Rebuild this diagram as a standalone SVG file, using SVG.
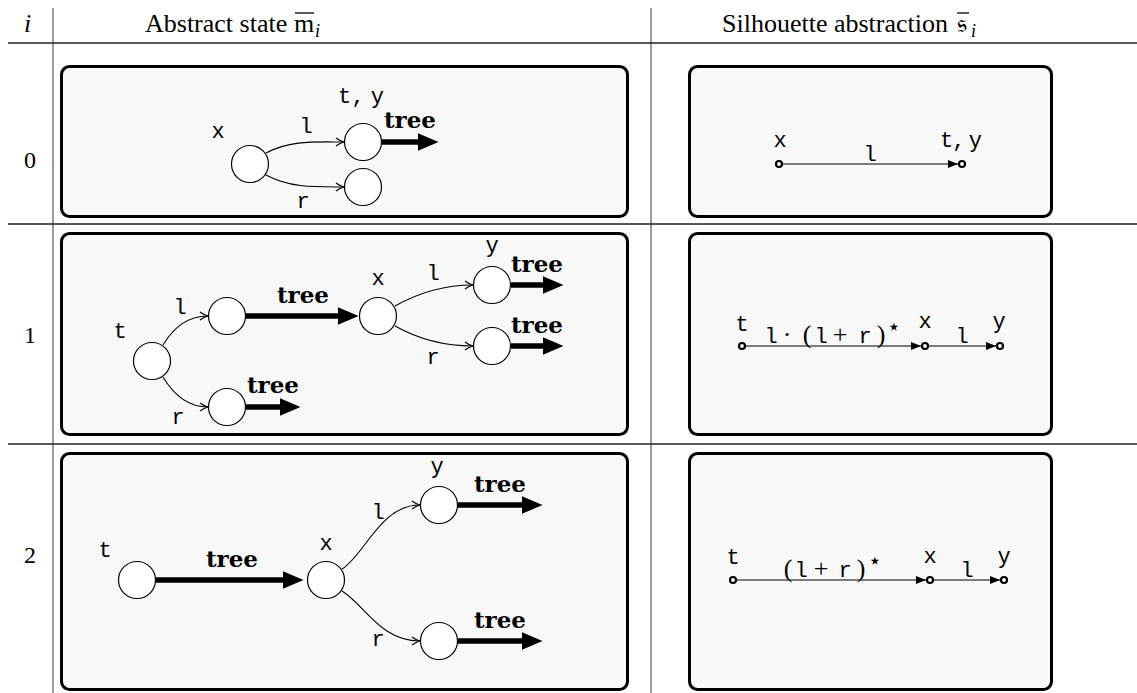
<svg xmlns="http://www.w3.org/2000/svg" width="1137" height="693" viewBox="0 0 1137 693">
<style>
.rule{stroke:#222;stroke-width:1.3}
.vrule{stroke:#666;stroke-width:1.3}
.box{fill:#f8f8f8;stroke:#000;stroke-width:3}
.hd{font-family:"Liberation Serif",serif;font-size:26px;fill:#000}
.sub{font-family:"Liberation Serif",serif;font-size:18px;font-style:italic;fill:#000}
.ovl{stroke:#000;stroke-width:1.3}
.num{font-family:"Liberation Serif",serif;font-size:24px;fill:#000;text-anchor:middle}
.nd{fill:#fff;stroke:#000;stroke-width:1.2}
.sn{fill:#fff;stroke:#000;stroke-width:2.2}
.lb{font-family:"Liberation Mono","DejaVu Sans Mono",monospace;font-size:22px;fill:#000;text-anchor:middle}
.tr{font-family:"DejaVu Serif",serif;font-weight:bold;font-size:23px;fill:#000;text-anchor:middle}
.sr{font-family:"Liberation Serif",serif;font-size:26px}
.st{font-family:"DejaVu Sans",sans-serif;font-size:22px}
.thin{fill:none;stroke:#000;stroke-width:1.1}
.thick{stroke:#000;stroke-width:5.5}
.sline{stroke:#000;stroke-width:1.1}
</style>
<defs>
<marker id="thinhead" markerUnits="userSpaceOnUse" viewBox="0 0 12 10" markerWidth="12" markerHeight="10" refX="9" refY="5" orient="auto"><path d="M1,1 Q5,4 9,5 Q5,6 1,9" fill="none" stroke="#000" stroke-width="1.2"/></marker>
<marker id="bighead" markerUnits="userSpaceOnUse" viewBox="0 0 21 18" markerWidth="21" markerHeight="18" refX="0.5" refY="9" orient="auto"><path d="M0,0 L21,9 L0,18 Z" fill="#000"/></marker>
<marker id="lathead" markerUnits="userSpaceOnUse" viewBox="0 0 10 8" markerWidth="10" markerHeight="8" refX="10" refY="4" orient="auto"><path d="M0,0 L10,4 L0,8 Z" fill="#000"/></marker>
</defs>

<g id="table">
<line class="vrule" x1="53" y1="8" x2="53" y2="693"/>
<line class="vrule" x1="651" y1="8" x2="651" y2="693"/>
<line class="rule" x1="8" y1="43" x2="1137" y2="43"/>
<line class="rule" x1="8" y1="224" x2="1137" y2="224"/>
<line class="rule" x1="8" y1="444" x2="1137" y2="444"/>
<text class="hd" x="24" y="32" font-style="italic">i</text>
<text class="hd" x="145" y="32">Abstract state</text>
<text class="hd" x="294" y="32">m</text>
<line class="ovl" x1="295" y1="13" x2="314" y2="13"/>
<text class="sub" x="315" y="37">i</text>
<text class="hd" x="722" y="32">Silhouette abstraction</text>
<text class="hd" x="957" y="32" font-family="DejaVu Sans,sans-serif">𝔰</text>
<line class="ovl" x1="957" y1="13" x2="969" y2="13"/>
<text class="sub" x="971" y="37">i</text>
<text class="num" x="30" y="168">0</text>
<text class="num" x="30" y="343">1</text>
<text class="num" x="30" y="563">2</text>
</g>

<g id="boxes">
<rect class="box" x="61.5" y="66.5" width="566" height="150" rx="8"/>
<rect class="box" x="689.5" y="66.5" width="362" height="150" rx="8"/>
<rect class="box" x="61.5" y="233.5" width="566" height="201" rx="8"/>
<rect class="box" x="689.5" y="233.5" width="362" height="201" rx="8"/>
<rect class="box" x="61.5" y="453.5" width="566" height="236" rx="8"/>
<rect class="box" x="689.5" y="453.5" width="362" height="236" rx="8"/>
</g>

<g id="connectors">
<path class="thin" d="M266,153 C290,140 315,142 344,142" marker-end="url(#thinhead)"/>
<path class="thin" d="M266,175 C290,188 315,187 344,187" marker-end="url(#thinhead)"/>
<line class="thick" x1="382" y1="142" x2="418" y2="142" marker-end="url(#bighead)"/>
<path class="thin" d="M163,345 C175,325 190,316 208,316" marker-end="url(#thinhead)"/>
<path class="thin" d="M163,377 C175,397 190,407 208,407" marker-end="url(#thinhead)"/>
<line class="thick" x1="246" y1="316" x2="338" y2="316" marker-end="url(#bighead)"/>
<line class="thick" x1="246" y1="407" x2="280" y2="407" marker-end="url(#bighead)"/>
<path class="thin" d="M395,306 C420,292 445,285 473,285" marker-end="url(#thinhead)"/>
<path class="thin" d="M395,326 C420,340 445,346 473,346" marker-end="url(#thinhead)"/>
<line class="thick" x1="511" y1="285" x2="543" y2="285" marker-end="url(#bighead)"/>
<line class="thick" x1="511" y1="346" x2="543" y2="346" marker-end="url(#bighead)"/>
<line class="thick" x1="156" y1="580" x2="283" y2="580" marker-end="url(#bighead)"/>
<path class="thin" d="M342,569 C365,555 380,505 420,505" marker-end="url(#thinhead)"/>
<path class="thin" d="M342,591 C365,605 380,641 420,641" marker-end="url(#thinhead)"/>
<line class="thick" x1="458" y1="505" x2="522" y2="505" marker-end="url(#bighead)"/>
<line class="thick" x1="458" y1="641" x2="522" y2="641" marker-end="url(#bighead)"/>
<line class="sline" x1="782" y1="164" x2="958" y2="164" marker-end="url(#lathead)"/>
<line class="sline" x1="745" y1="346" x2="921" y2="346" marker-end="url(#lathead)"/>
<line class="sline" x1="928" y1="346" x2="996" y2="346" marker-end="url(#lathead)"/>
<line class="sline" x1="736" y1="580" x2="926" y2="580" marker-end="url(#lathead)"/>
<line class="sline" x1="933" y1="580" x2="1000" y2="580" marker-end="url(#lathead)"/>
</g>

<g id="row0-state">
<circle class="nd" cx="250" cy="164" r="18.5"/>
<circle class="nd" cx="363" cy="142" r="18.5"/>
<circle class="nd" cx="363" cy="187" r="18.5"/>
<text class="lb" x="218" y="138">x</text>
<text class="lb" x="306" y="133">l</text>
<text class="lb" x="303" y="208">r</text>
<text class="lb" x="361" y="103" textLength="46">t,<tspan font-family="Liberation Serif,serif"> </tspan>y</text>
<text class="tr" x="410" y="128">tree</text>
</g>

<g id="row0-silhouette">
<circle class="sn" cx="779" cy="164" r="3"/>
<circle class="sn" cx="962" cy="164" r="3"/>
<text class="lb" x="780" y="147">x</text>
<text class="lb" x="870" y="161">l</text>
<text class="lb" x="961" y="147" textLength="42">t,<tspan font-family="Liberation Serif,serif"> </tspan>y</text>
</g>

<g id="row1-state">
<circle class="nd" cx="152" cy="361" r="18.5"/>
<circle class="nd" cx="227" cy="316" r="18.5"/>
<circle class="nd" cx="227" cy="407" r="18.5"/>
<circle class="nd" cx="378" cy="316" r="18.5"/>
<circle class="nd" cx="492" cy="285" r="18.5"/>
<circle class="nd" cx="492" cy="346" r="18.5"/>
<text class="lb" x="120" y="338">t</text>
<text class="lb" x="180" y="314">l</text>
<text class="lb" x="178" y="424">r</text>
<text class="tr" x="303" y="303">tree</text>
<text class="tr" x="273" y="393">tree</text>
<text class="lb" x="378" y="285">x</text>
<text class="lb" x="433" y="280">l</text>
<text class="lb" x="433" y="364">r</text>
<text class="lb" x="492" y="252">y</text>
<text class="tr" x="537" y="272">tree</text>
<text class="tr" x="537" y="333">tree</text>
</g>

<g id="row1-silhouette">
<circle class="sn" cx="742" cy="346" r="3"/>
<circle class="sn" cx="925" cy="346" r="3"/>
<circle class="sn" cx="1000" cy="346" r="3"/>
<text class="lb" x="742" y="331">t</text>
<text class="lb" x="925" y="328">x</text>
<text class="lb" x="999" y="328">y</text>
<text class="lb" x="962" y="343">l</text>
<text class="lb" y="343"><tspan x="771">l</tspan><tspan class="sr" x="787">·</tspan><tspan class="sr" x="807">(</tspan><tspan x="821">l</tspan><tspan class="sr" x="840">+</tspan><tspan x="865">r</tspan><tspan class="sr" x="881">)</tspan><tspan class="st" x="894" y="334">⋆</tspan></text>
</g>

<g id="row2-state">
<circle class="nd" cx="137" cy="580" r="18.5"/>
<circle class="nd" cx="326" cy="580" r="18.5"/>
<circle class="nd" cx="439" cy="505" r="18.5"/>
<circle class="nd" cx="439" cy="641" r="18.5"/>
<text class="lb" x="105" y="557">t</text>
<text class="tr" x="232" y="567">tree</text>
<text class="lb" x="326" y="550">x</text>
<text class="lb" x="378" y="519">l</text>
<text class="lb" x="378" y="646">r</text>
<text class="lb" x="437" y="473">y</text>
<text class="tr" x="500" y="492">tree</text>
<text class="tr" x="500" y="628">tree</text>
</g>

<g id="row2-silhouette">
<circle class="sn" cx="733" cy="580" r="3"/>
<circle class="sn" cx="930" cy="580" r="3"/>
<circle class="sn" cx="1004" cy="580" r="3"/>
<text class="lb" x="733" y="564">t</text>
<text class="lb" x="930" y="563">x</text>
<text class="lb" x="1004" y="563">y</text>
<text class="lb" x="967" y="577">l</text>
<text class="lb" y="577"><tspan class="sr" x="788">(</tspan><tspan x="801">l</tspan><tspan class="sr" x="821">+</tspan><tspan x="845">r</tspan><tspan class="sr" x="861">)</tspan><tspan class="st" x="875" y="568">⋆</tspan></text>
</g>
</svg>
